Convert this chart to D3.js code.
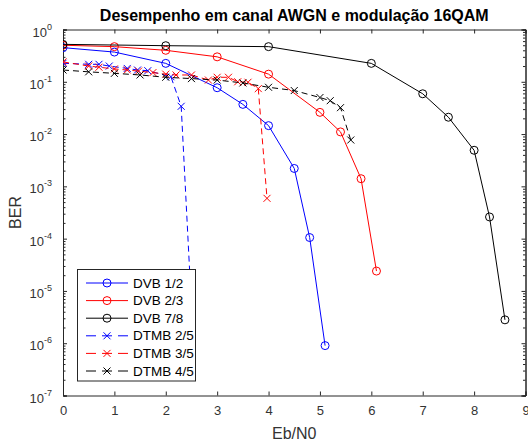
<!DOCTYPE html>
<html>
<head>
<meta charset="utf-8">
<script src="https://cdn.jsdelivr.net/npm/d3@7"></script>
<style>
  body { margin: 0; background: #fff; }
  text { font-family: "Liberation Sans", Arial, sans-serif; }
</style>
</head>
<body>
<div id="chart-area"></div>
<script>

// values
const dvb12X = [0, 1, 2, 3, 3.5, 4, 4.5, 4.8, 5.1];
const dvb12Y = [0.45, 0.37, 0.225, 0.077, 0.037, 0.0145, 0.0022, 1.05e-4, 9e-7];

const dvb23X = [0, 1, 2, 3, 4, 5, 5.4, 5.8, 6.1];
const dvb23Y = [0.5, 0.47, 0.40, 0.30, 0.14, 0.026, 0.011, 0.0014, 2.4e-5];

const dvb78X = [0, 2, 4, 6, 7, 7.5, 8, 8.3, 8.6];
const dvb78Y = [0.52, 0.49, 0.47, 0.225, 0.059, 0.021, 0.0049, 2.6e-4, 2.8e-6];

const dtmb25X = [0, 0.5, 0.7, 0.9, 1.25, 1.45, 1.65, 2.1, 2.3, 2.5];
const dtmb25Y = [0.226, 0.216, 0.216, 0.2, 0.18, 0.168, 0.163, 0.125, 0.034, 5e-6];

const dtmb35X = [0, 0.5, 0.7, 1.0, 1.25, 1.47, 1.75, 2.0, 2.2, 2.5, 2.83, 3.0, 3.22, 3.4, 3.6, 3.8, 3.97];
const dtmb35Y = [0.24, 0.2, 0.19, 0.176, 0.168, 0.16, 0.15, 0.14, 0.135, 0.135, 0.108, 0.122, 0.122, 0.1, 0.098, 0.074, 5.9e-4];

const dtmb45X = [0, 0.5, 1.0, 1.5, 2.0, 2.5, 3.0, 3.5, 4.0, 4.5, 5.0, 5.2, 5.4, 5.6];
const dtmb45Y = [0.168, 0.155, 0.145, 0.135, 0.122, 0.115, 0.108, 0.095, 0.0785, 0.068, 0.05, 0.0435, 0.032, 0.0077];

const xTicks = [0, 1, 2, 3, 4, 5, 6, 7, 8, 9];
const yExponents = [0, -1, -2, -3, -4, -5, -6, -7];

const series = [
  { name: 'DVB 1/2', xs: dvb12X, ys: dvb12Y, color: '#0000ff', dash: null, marker: 'o' },
  { name: 'DVB 2/3', xs: dvb23X, ys: dvb23Y, color: '#ff0000', dash: null, marker: 'o' },
  { name: 'DVB 7/8', xs: dvb78X, ys: dvb78Y, color: '#000000', dash: null, marker: 'o' },
  { name: 'DTMB 2/5', xs: dtmb25X, ys: dtmb25Y, color: '#0000ff', dash: '6,4', marker: 'x' },
  { name: 'DTMB 3/5', xs: dtmb35X, ys: dtmb35Y, color: '#ff0000', dash: '6,4', marker: 'x' },
  { name: 'DTMB 4/5', xs: dtmb45X, ys: dtmb45Y, color: '#000000', dash: '6,4', marker: 'x' },
];

const widthSvg = 528;
const heightSvg = 444;
const plot = { left: 63, right: 525.5, top: 29.5, bottom: 395.5 };
const axisColor = '#262626';

const scaleX = d3.scaleLinear().domain([0, 9]).range([plot.left, plot.right]);
const scaleY = d3.scaleLog().domain([1e-7, 1]).range([plot.bottom, plot.top]);

const svg = d3.select('#chart-area').append('svg')
  .attr('width', widthSvg)
  .attr('height', heightSvg);

svg.append('defs').append('clipPath').attr('id', 'clip')
  .append('rect')
    .attr('x', plot.left).attr('y', plot.top)
    .attr('width', plot.right - plot.left)
    .attr('height', plot.bottom - plot.top);

// axes: ticks point inward, like matlab
const axisBottom = svg.append('g')
  .attr('transform', `translate(0, ${plot.bottom})`)
  .call(d3.axisBottom(scaleX).tickValues(xTicks).tickSize(-4).tickPadding(10).tickFormat(d3.format('d')));
const axisTop = svg.append('g')
  .attr('transform', `translate(0, ${plot.top})`)
  .call(d3.axisTop(scaleX).tickValues(xTicks).tickSize(-4).tickFormat(''));

const majorY = yExponents.map(e => Math.pow(10, e));
const minorY = [];
yExponents.slice(1).forEach(e => {
  for (let k = 2; k <= 9; k++) minorY.push(k * Math.pow(10, e));
});

const axisLeft = svg.append('g')
  .attr('transform', `translate(${plot.left}, 0)`)
  .call(d3.axisLeft(scaleY).tickValues(majorY).tickSize(-4).tickFormat(''));
const axisRight = svg.append('g')
  .attr('transform', `translate(${plot.right}, 0)`)
  .call(d3.axisRight(scaleY).tickValues(majorY).tickSize(-4).tickFormat(''));
const minorLeft = svg.append('g')
  .attr('transform', `translate(${plot.left}, 0)`)
  .call(d3.axisLeft(scaleY).tickValues(minorY).tickSize(-2.5).tickFormat(''));
const minorRight = svg.append('g')
  .attr('transform', `translate(${plot.right}, 0)`)
  .call(d3.axisRight(scaleY).tickValues(minorY).tickSize(-2.5).tickFormat(''));

[axisBottom, axisTop, axisLeft, axisRight, minorLeft, minorRight].forEach(g => {
  g.select('.domain').attr('stroke', axisColor);
  g.selectAll('.tick line').attr('stroke', axisColor);
  g.selectAll('.tick text')
    .attr('fill', '#333')
    .attr('font-size', '13px')
    .attr('font-family', '"Liberation Sans", Arial, sans-serif');
});

// y tick labels as 10^n
const yLabels = svg.append('g');
yExponents.forEach(e => {
  const t = yLabels.append('text')
    .attr('x', 52)
    .attr('y', scaleY(Math.pow(10, e)) + 7)
    .attr('text-anchor', 'end')
    .attr('fill', '#333')
    .attr('font-size', '13px');
  t.append('tspan').text('10');
  t.append('tspan').text(e).attr('font-size', '9px').attr('dy', -7);
});

// titles
svg.append('text')
  .text('Desempenho em canal AWGN e modulação 16QAM')
  .attr('x', (plot.left + plot.right) / 2)
  .attr('y', 21)
  .attr('text-anchor', 'middle')
  .attr('font-weight', 'bold')
  .attr('font-size', '16px')
  .attr('fill', '#000');

svg.append('text')
  .text('Eb/N0')
  .attr('x', (plot.left + plot.right) / 2)
  .attr('y', 439)
  .attr('text-anchor', 'middle')
  .attr('font-size', '16px')
  .attr('fill', '#333');

svg.append('text')
  .text('BER')
  .attr('transform', `translate(21, ${(plot.top + plot.bottom) / 2}) rotate(-90)`)
  .attr('text-anchor', 'middle')
  .attr('font-size', '16px')
  .attr('fill', '#333');

const drawMarker = (g, kind, cx, cy, color) => {
  if (kind === 'o') {
    g.append('circle')
      .attr('cx', cx).attr('cy', cy).attr('r', 4)
      .attr('fill', 'none').attr('stroke', color).attr('stroke-width', 1);
  } else {
    const s = 3.5;
    g.append('path')
      .attr('d', `M${cx - s},${cy - s}L${cx + s},${cy + s}M${cx - s},${cy + s}L${cx + s},${cy - s}`)
      .attr('stroke', color).attr('stroke-width', 1);
  }
};

const chart = svg.append('g').attr('clip-path', 'url(#clip)');

const line = d3.line()
  .x(d => scaleX(d[0]))
  .y(d => scaleY(d[1]));

series.forEach(s => {
  const pts = s.xs.map((x, i) => [x, s.ys[i]]);
  const g = chart.append('g');
  g.append('path')
    .datum(pts)
    .attr('d', line)
    .attr('fill', 'none')
    .attr('stroke', s.color)
    .attr('stroke-width', 1)
    .attr('stroke-dasharray', s.dash);
  pts.forEach(p => drawMarker(g, s.marker, scaleX(p[0]), scaleY(p[1]), s.color));
});

// legend
const legend = svg.append('g');
legend.append('rect')
  .attr('x', 77.5).attr('y', 269.5)
  .attr('width', 118).attr('height', 111.5)
  .attr('fill', '#fff')
  .attr('stroke', axisColor)
  .attr('stroke-width', 1);

series.forEach((s, i) => {
  const ly = 283 + i * 17.6;
  legend.append('line')
    .attr('x1', 86).attr('x2', 128)
    .attr('y1', ly).attr('y2', ly)
    .attr('stroke', s.color)
    .attr('stroke-width', 1)
    .attr('stroke-dasharray', s.dash ? '10,6' : null);
  drawMarker(legend, s.marker, 107, ly, s.color);
  legend.append('text')
    .text(s.name)
    .attr('x', 133)
    .attr('y', ly + 4.5)
    .attr('font-size', '13.5px')
    .attr('fill', '#000');
});

</script>
</body>
</html>
